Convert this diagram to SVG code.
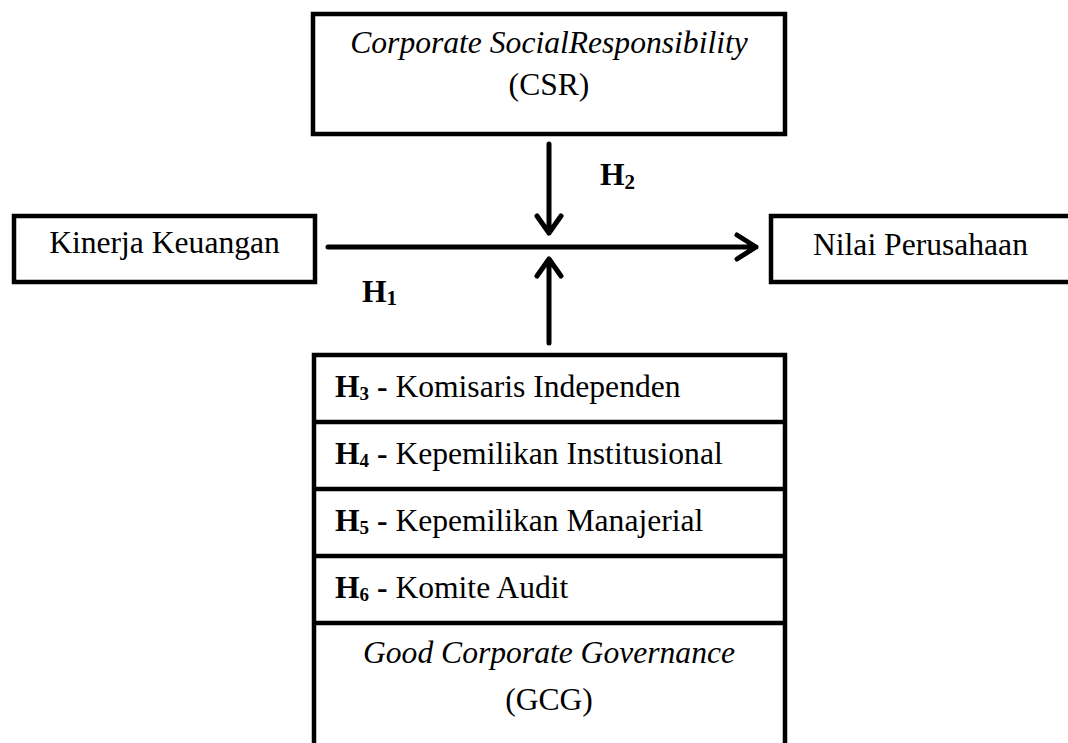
<svg xmlns="http://www.w3.org/2000/svg" width="1068" height="743" viewBox="0 0 1068 743">
<style>
text { font-family: "Liberation Serif", "Times New Roman", serif; font-size: 31.6px; fill: #000; }
.it { font-style: italic; }
.b { font-weight: bold; }
.box { fill: #fff; stroke: #000; stroke-width: 4.5; }
.sep { stroke: #000; stroke-width: 4.5; }
.ln { fill: none; stroke: #000; stroke-width: 5; stroke-linecap: round; stroke-linejoin: round; }
</style>
<rect x="0" y="0" width="1068" height="743" fill="#fff"/>
<g id="csr">
  <rect class="box" x="313" y="14" width="472" height="120"/>
  <text class="it" x="549" y="53" text-anchor="middle">Corporate SocialResponsibility</text>
  <text x="549" y="95" text-anchor="middle">(CSR)</text>
</g>
<g id="kinerja">
  <rect class="box" x="14" y="216" width="301" height="66"/>
  <text x="164.5" y="253" text-anchor="middle">Kinerja Keuangan</text>
</g>
<g id="nilai">
  <rect class="box" x="771" y="216" width="320" height="66"/>
  <text x="813" y="255">Nilai Perusahaan</text>
</g>
<g id="gcg">
  <rect class="box" x="314" y="355" width="471" height="400"/>
  <line class="sep" x1="314" y1="422" x2="785" y2="422"/>
  <line class="sep" x1="314" y1="489" x2="785" y2="489"/>
  <line class="sep" x1="314" y1="556" x2="785" y2="556"/>
  <line class="sep" x1="314" y1="623" x2="785" y2="623"/>
  <text x="335" y="397"><tspan class="b">H</tspan><tspan class="b" font-size="19" dy="3">3</tspan><tspan class="b" dy="-3"> - </tspan>Komisaris Independen</text>
  <text x="335" y="464"><tspan class="b">H</tspan><tspan class="b" font-size="19" dy="3">4</tspan><tspan class="b" dy="-3"> - </tspan>Kepemilikan Institusional</text>
  <text x="335" y="531"><tspan class="b">H</tspan><tspan class="b" font-size="19" dy="3">5</tspan><tspan class="b" dy="-3"> - </tspan>Kepemilikan Manajerial</text>
  <text x="335" y="598"><tspan class="b">H</tspan><tspan class="b" font-size="19" dy="3">6</tspan><tspan class="b" dy="-3"> - </tspan>Komite Audit</text>
  <text class="it" x="549" y="663" text-anchor="middle">Good Corporate Governance</text>
  <text x="549" y="710" text-anchor="middle">(GCG)</text>
</g>
<g id="connectors">
  <path class="ln" d="M328 247 H756 M737 235 L756 247 L737 259"/>
  <path class="ln" d="M549 144 V233 M537 216 L549 233 L561 216"/>
  <path class="ln" d="M549 343 V259 M537 276 L549 259 L561 276"/>
</g>
<g id="labels">
  <text class="b" x="600" y="185" font-size="30">H<tspan font-size="21" dy="4">2</tspan></text>
  <text class="b" x="362" y="302" font-size="30">H<tspan font-size="21" dy="3">1</tspan></text>
</g>
</svg>
